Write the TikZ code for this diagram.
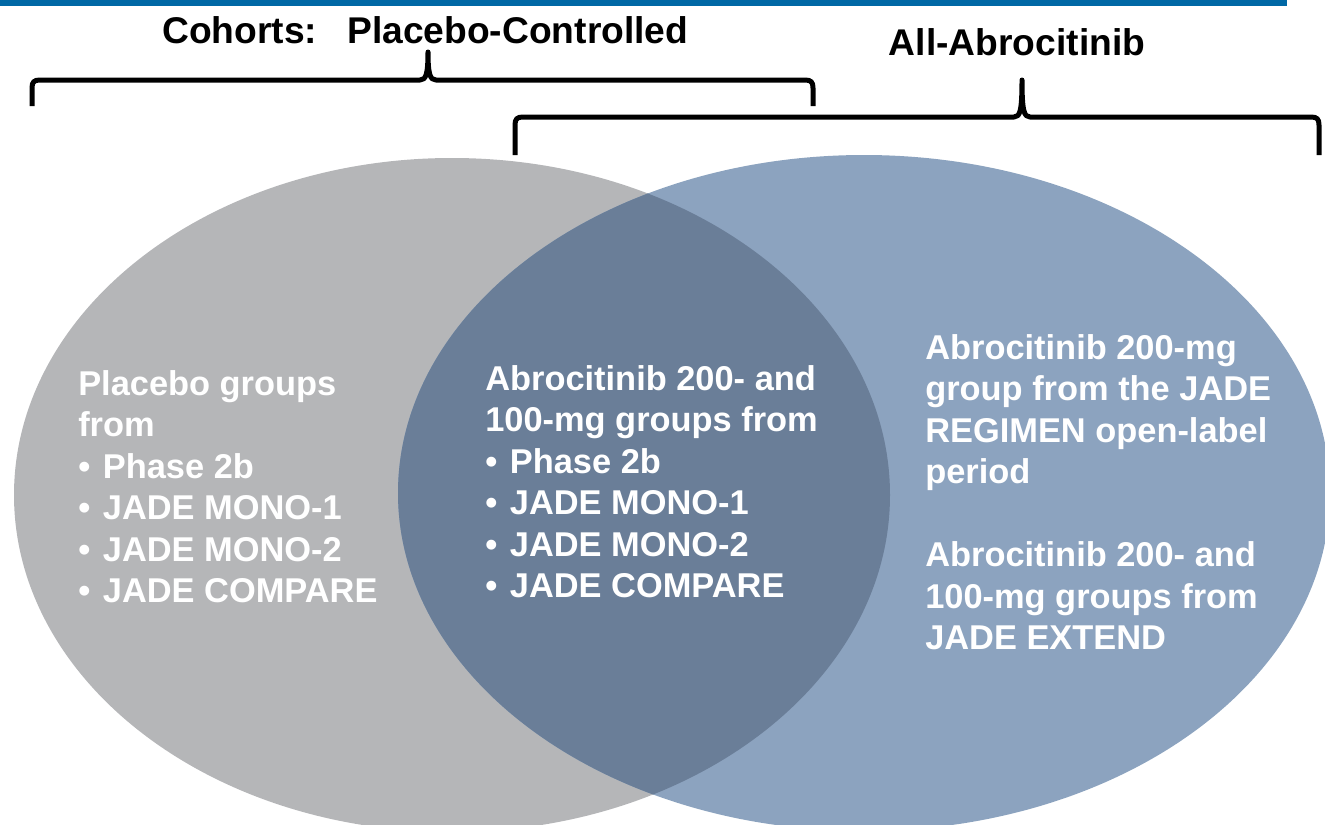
\documentclass[tikz,border=0pt]{standalone}
\usepackage{fontspec}
\setmainfont{Liberation Sans}
\definecolor{topbar}{HTML}{0068A5}
\definecolor{grayset}{HTML}{B5B6B8}
\definecolor{blueset}{HTML}{8CA3BF}
\definecolor{overlap}{HTML}{6A7E98}
\newcommand\bitem{\makebox[18.5pt][l]{•}}
\begin{document}
\begin{tikzpicture}[x=0.75pt,y=-0.75pt,
  body/.style={text=white,font=\bfseries\fontsize{25.8}{31.1}\selectfont,align=left,anchor=north west,inner sep=0pt},
  titletext/.style={font=\bfseries\fontsize{27.9}{32}\selectfont,inner sep=0pt},
  brace/.style={line width=3.75pt,line join=round}]
\useasboundingbox (0,0) rectangle (1325,825);
\clip (0,0) rectangle (1325,825);
\fill[topbar] (0,0) rectangle (1287,6);
% sets
\fill[grayset] (452,495) ellipse [x radius=438, y radius=337];
\fill[blueset] (864,493) ellipse [x radius=466, y radius=338];
\begin{scope}
  \clip (452,495) ellipse [x radius=438, y radius=337];
  \fill[overlap] (864,493) ellipse [x radius=466, y radius=338];
\end{scope}
% titles
\node[titletext,anchor=west] (cohorts) at (162,30) {Cohorts:};
\node[titletext,anchor=west] (pctitle) at (347,30) {Placebo-Controlled};
\node[titletext] (aatitle) at (1017,42) {All-Abrocitinib};
% braces
\draw[brace] (32,106) -- (32,88) .. controls (32,82) and (34,80) .. (40,80) -- (420,80)
  .. controls (426,80) and (428,74) .. (428,52) .. controls (428,74) and (430,80) .. (436,80)
  -- (805,80) .. controls (811,80) and (813,82) .. (813,88) -- (813,106);
\draw[brace] (515,155) -- (515,125) .. controls (515,119) and (517,117) .. (523,117) -- (1014,117)
  .. controls (1020,117) and (1022,111) .. (1022,80) .. controls (1022,111) and (1024,117) .. (1030,117)
  -- (1311,117) .. controls (1317,117) and (1319,119) .. (1319,125) -- (1319,155);
% texts
\node[body] (placebo) at (78,370) {Placebo groups\\from\\\bitem Phase 2b\\\bitem JADE MONO-1\\\bitem JADE MONO-2\\\bitem JADE COMPARE};
\node[body] (both) at (485,365) {Abrocitinib 200- and\\100-mg groups from\\\bitem Phase 2b\\\bitem JADE MONO-1\\\bitem JADE MONO-2\\\bitem JADE COMPARE};
\node[body] (allabro) at (925,334) {Abrocitinib 200-mg\\group from the JADE\\REGIMEN open-label\\period\\[31.1pt]Abrocitinib 200- and\\100-mg groups from\\JADE EXTEND};
\end{tikzpicture}
\end{document}
